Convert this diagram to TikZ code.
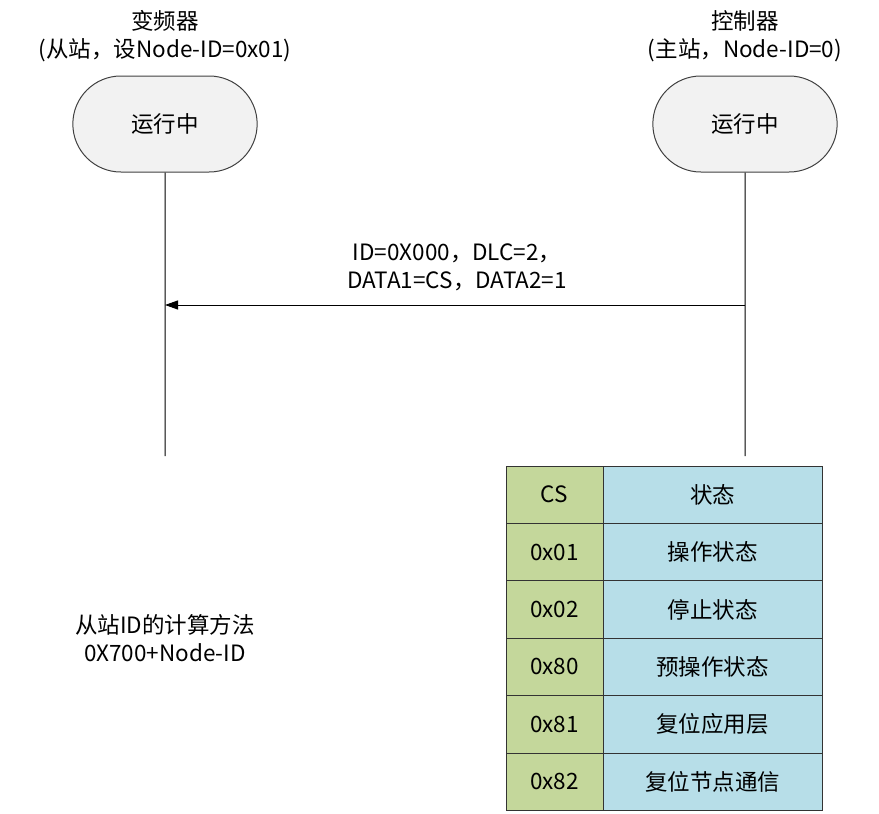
\documentclass[tikz,border=0pt]{standalone}
\usepackage{fontspec}
\setmainfont{Noto Sans CJK SC}
\usetikzlibrary{arrows.meta,shapes.misc}

\definecolor{runfill}{HTML}{F2F2F2}
\definecolor{csgreen}{HTML}{C4D79B}
\definecolor{stblue}{HTML}{B7DEE8}

\begin{document}
\begin{tikzpicture}[x=1pt,y=-1pt,line width=1pt,
  every node/.style={font=\fontsize{22.5}{28}\selectfont,align=center},
  runstate/.style={rounded rectangle,draw=black!75,fill=runfill,minimum width=191pt,minimum height=96pt},
  cscell/.style={draw=black!80,fill=csgreen,minimum width=97pt,minimum height=57.4pt},
  stcell/.style={draw=black!80,fill=stblue,minimum width=219pt,minimum height=57.4pt}]
  \useasboundingbox (0,0) rectangle (879,814);

  % stations
  \node (slave) at (165,36) {变频器\\(从站，设Node-ID=0x01)};
  \node (master) at (745,36) {控制器\\(主站，Node-ID=0)};
  \node[runstate] (srun) at (165,124) {运行中};
  \node[runstate] (mrun) at (745,124) {运行中};

  % lifelines
  \coordinate (send) at (165,456);
  \coordinate (mend) at (745,456);
  \draw (srun)--(send);
  \draw (mrun)--(mend);

  % message
  \coordinate (msgfrom) at (745,305);
  \coordinate (msgto) at (165,305);
  \draw[-{Triangle[length=13pt,width=9pt]}] (msgfrom)--(msgto);
  \node (msg) at (457,267) {ID=0X000，DLC=2，\\DATA1=CS，DATA2=1};

  % CS table
  \foreach \cs/\st [count=\i] in {CS/状态,0x01/操作状态,0x02/停止状态,0x80/预操作状态,0x81/复位应用层,0x82/复位节点通信} {
    \node[cscell] (cs\i) at (554.5,{437.3+57.4*\i}) {\cs};
    \node[stcell] (st\i) at (712.5,{437.3+57.4*\i}) {\st};
  }

  \node (calc) at (165,638) {从站ID的计算方法\\0X700+Node-ID};
\end{tikzpicture}
\end{document}
